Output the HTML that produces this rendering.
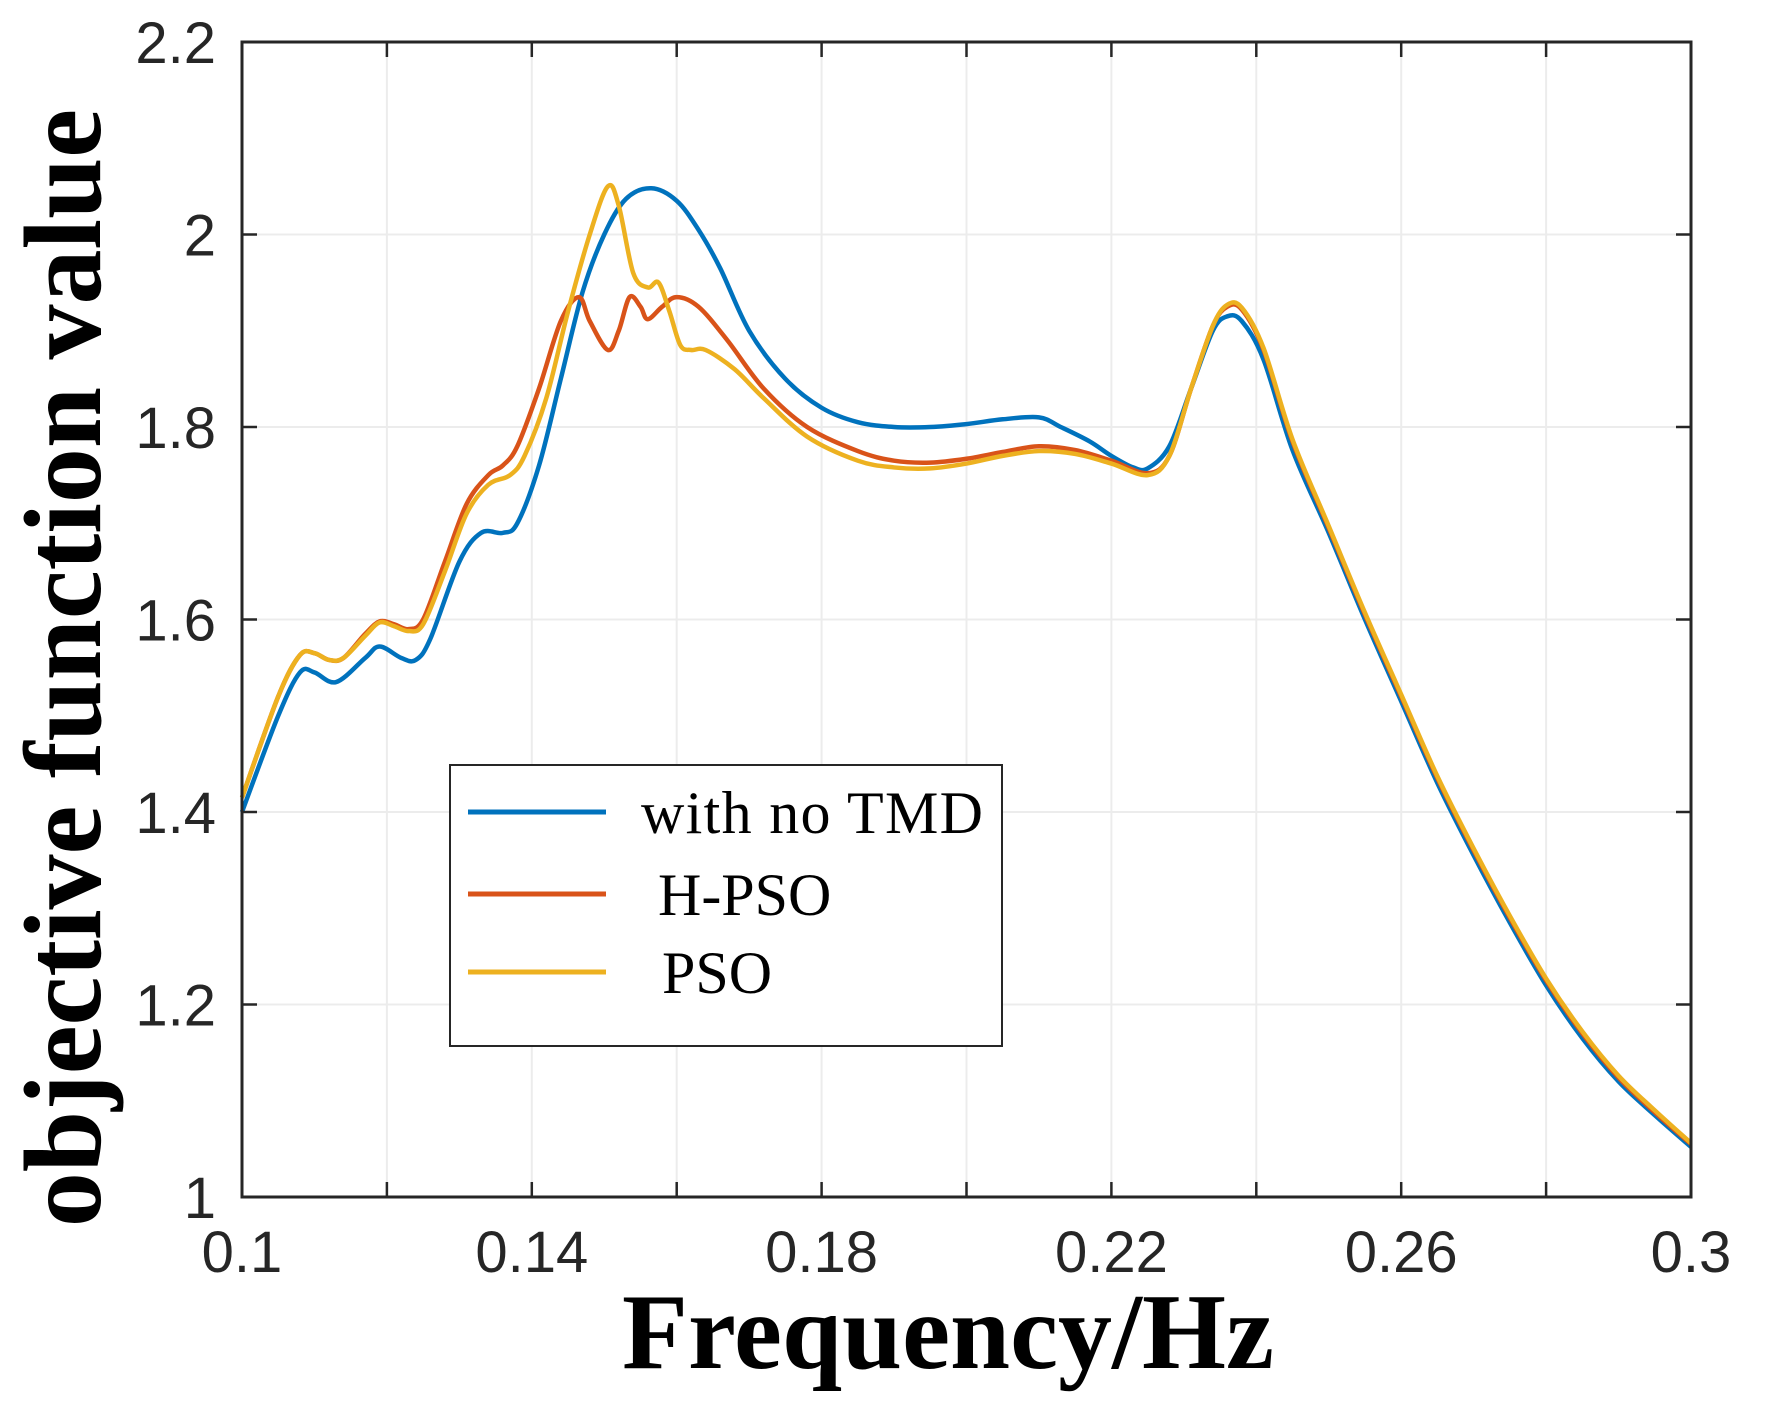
<!DOCTYPE html>
<html><head><meta charset="utf-8"><style>
html,body{margin:0;padding:0;background:#fff;}
svg{display:block;}
</style></head><body>
<svg id="chart" width="1767" height="1416" viewBox="0 0 1767 1416" xmlns="http://www.w3.org/2000/svg">
<g id="grid"></g>
<g id="series"></g>
<rect x="242" y="42" width="1449" height="1155" fill="none" stroke="#262626" stroke-width="3"/>
<g id="ticks"></g>
<text x="948" y="1368" text-anchor="middle" font-family="Liberation Serif, serif" font-weight="bold" font-size="108">Frequency/Hz</text>
<text transform="translate(100,668) rotate(-90)" text-anchor="middle" font-family="Liberation Serif, serif" font-weight="bold" font-size="110">objective function value</text>
<g>
<rect x="450" y="765" width="552" height="281" fill="#fff" stroke="#262626" stroke-width="2"/>
<line x1="468" y1="812" x2="606" y2="812" stroke="#0072BD" stroke-width="5"/>
<text x="641" y="833" font-family="Liberation Serif, serif" font-size="60" textLength="342">with no TMD</text>
<line x1="468" y1="894" x2="606" y2="894" stroke="#D95319" stroke-width="5"/>
<text x="658" y="915" font-family="Liberation Serif, serif" font-size="60">H-PSO</text>
<line x1="468" y1="972" x2="606" y2="972" stroke="#EDB120" stroke-width="5"/>
<text x="662" y="993" font-family="Liberation Serif, serif" font-size="60">PSO</text>
</g>
</svg>
<script>
const xTicks=[0.1,0.12,0.14,0.16,0.18,0.2,0.22,0.24,0.26,0.28,0.3];
const xTickLabels=["0.1","","0.14","","0.18","","0.22","","0.26","","0.3"];
const yTicks=[1,1.2,1.4,1.6,1.8,2,2.2];
const yTickLabels=["1","1.2","1.4","1.6","1.8","2","2.2"];
const noTmdX=[0.1,0.105,0.108,0.110,0.113,0.117,0.119,0.122,0.124,0.126,0.130,0.133,0.136,0.138,0.141,0.144,0.147,0.150,0.153,0.1565,0.160,0.163,0.166,0.170,0.175,0.180,0.185,0.190,0.195,0.200,0.205,0.210,0.213,0.217,0.220,0.223,0.225,0.228,0.231,0.234,0.236,0.238,0.241,0.245,0.25,0.255,0.26,0.265,0.27,0.275,0.28,0.285,0.29,0.295,0.3];
const noTmdY=[1.40,1.50,1.545,1.545,1.535,1.56,1.572,1.56,1.558,1.58,1.66,1.69,1.69,1.70,1.76,1.85,1.94,2.00,2.037,2.048,2.035,2.005,1.965,1.90,1.85,1.82,1.805,1.80,1.80,1.803,1.808,1.81,1.80,1.785,1.77,1.758,1.757,1.78,1.84,1.90,1.915,1.91,1.87,1.776,1.69,1.60,1.515,1.43,1.355,1.285,1.22,1.165,1.12,1.085,1.052];
const hpsoX=[0.1,0.105,0.108,0.110,0.112,0.114,0.117,0.119,0.121,0.123,0.125,0.128,0.131,0.134,0.136,0.138,0.141,0.144,0.1465,0.148,0.1505,0.152,0.1535,0.155,0.156,0.158,0.160,0.163,0.167,0.172,0.178,0.185,0.190,0.195,0.200,0.205,0.21,0.215,0.22,0.225,0.228,0.231,0.234,0.236,0.238,0.241,0.245,0.25,0.255,0.26,0.265,0.27,0.275,0.28,0.285,0.29,0.295,0.3];
const hpsoY=[1.415,1.52,1.563,1.565,1.558,1.56,1.585,1.598,1.595,1.59,1.60,1.66,1.72,1.75,1.76,1.78,1.84,1.91,1.935,1.91,1.88,1.90,1.935,1.925,1.912,1.925,1.935,1.925,1.89,1.84,1.80,1.775,1.765,1.763,1.767,1.774,1.78,1.776,1.765,1.752,1.77,1.84,1.905,1.925,1.922,1.88,1.785,1.695,1.605,1.52,1.435,1.36,1.29,1.225,1.17,1.124,1.088,1.055];
const psoX=[0.1,0.105,0.108,0.110,0.112,0.114,0.117,0.119,0.121,0.123,0.125,0.128,0.131,0.134,0.137,0.139,0.142,0.145,0.148,0.1505,0.152,0.154,0.156,0.1575,0.159,0.1605,0.162,0.164,0.168,0.172,0.178,0.185,0.19,0.195,0.2,0.205,0.21,0.215,0.22,0.225,0.228,0.231,0.234,0.236,0.238,0.241,0.245,0.25,0.255,0.26,0.265,0.27,0.275,0.28,0.285,0.29,0.295,0.3];
const psoY=[1.415,1.52,1.563,1.565,1.558,1.56,1.583,1.597,1.593,1.588,1.595,1.65,1.71,1.74,1.75,1.77,1.83,1.92,2.00,2.05,2.03,1.96,1.945,1.95,1.92,1.885,1.88,1.88,1.86,1.83,1.79,1.765,1.758,1.757,1.762,1.77,1.775,1.772,1.762,1.75,1.77,1.84,1.905,1.927,1.924,1.882,1.787,1.697,1.607,1.522,1.437,1.362,1.292,1.227,1.172,1.126,1.09,1.056];

const L=242,R=1691,T=42,B=1197;
function sx(v){return L+(v-0.1)/(0.3-0.1)*(R-L);}
function sy(v){return B-(v-1)/(2.2-1)*(B-T);}
const NS="http://www.w3.org/2000/svg";
const grid=document.getElementById('grid'),ticks=document.getElementById('ticks'),series=document.getElementById('series');
function mk(tag,attrs,parent){const e=document.createElementNS(NS,tag);for(const k in attrs)e.setAttribute(k,attrs[k]);parent.appendChild(e);return e;}
xTicks.forEach((t,i)=>{
  const x=sx(t);
  const g=mk('line',{x1:x,y1:T,x2:x,y2:B,stroke:'#ececec','stroke-width':2},grid);
  
  
  const a=mk('line',{x1:x,y1:B,x2:x,y2:B-15,stroke:'#262626','stroke-width':2.5},ticks);
  
  
  const b=mk('line',{x1:x,y1:T,x2:x,y2:T+15,stroke:'#262626','stroke-width':2.5},ticks);
  
  
  if(xTickLabels[i]){
    const tx=mk('text',{x:x,y:1272,'text-anchor':'middle','font-family':'Liberation Sans, sans-serif','font-size':58,fill:'#262626'},ticks);
    tx.textContent=xTickLabels[i];
    
    
  }
});
yTicks.forEach((t,i)=>{
  const y=sy(t);
  const g=mk('line',{x1:L,y1:y,x2:R,y2:y,stroke:'#ececec','stroke-width':2},grid);
  
  
  const a=mk('line',{x1:L,y1:y,x2:L+15,y2:y,stroke:'#262626','stroke-width':2.5},ticks);
  
  
  const b=mk('line',{x1:R,y1:y,x2:R-15,y2:y,stroke:'#262626','stroke-width':2.5},ticks);
  
  
  const tx=mk('text',{x:216,y:y+21,'text-anchor':'end','font-family':'Liberation Sans, sans-serif','font-size':58,fill:'#262626'},ticks);
  tx.textContent=yTickLabels[i];
  
  
});
function pathFor(xs,ys){
  const p=xs.map((x,i)=>[sx(x),sy(ys[i])]);
  let d='M'+p[0][0]+','+p[0][1];
  for(let i=0;i<p.length-1;i++){
    const p0=p[Math.max(0,i-1)],p1=p[i],p2=p[i+1],p3=p[Math.min(p.length-1,i+2)];
    const c1=[p1[0]+(p2[0]-p0[0])/6,p1[1]+(p2[1]-p0[1])/6];
    const c2=[p2[0]-(p3[0]-p1[0])/6,p2[1]-(p3[1]-p1[1])/6];
    d+=' C'+c1[0]+','+c1[1]+' '+c2[0]+','+c2[1]+' '+p2[0]+','+p2[1];
  }
  return d;
}
const s1=mk('path',{d:pathFor(noTmdX,noTmdY),fill:'none',stroke:'#0072BD','stroke-width':4.5},series);


const s2=mk('path',{d:pathFor(hpsoX,hpsoY),fill:'none',stroke:'#D95319','stroke-width':4.5},series);


const s3=mk('path',{d:pathFor(psoX,psoY),fill:'none',stroke:'#EDB120','stroke-width':4.5},series);


</script>
</body></html>
